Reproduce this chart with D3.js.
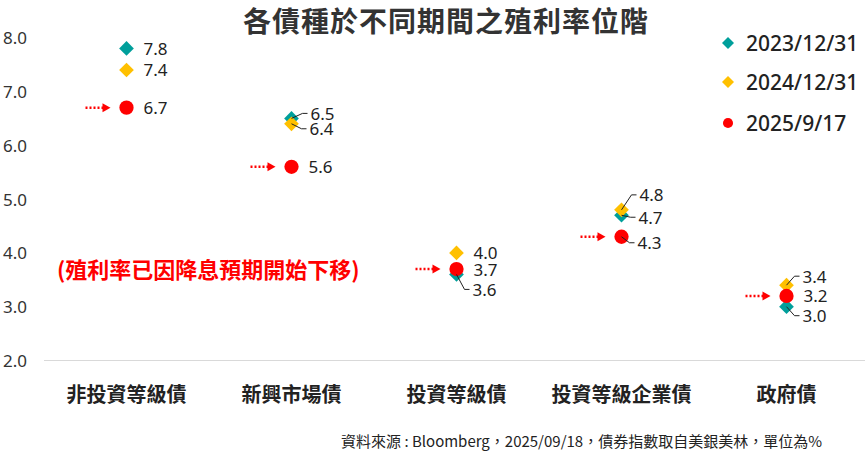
<!DOCTYPE html>
<html>
<head>
<meta charset="utf-8">
<script src="https://cdn.jsdelivr.net/npm/d3@7"></script>
<style>
  body { margin: 0; background: #fff; }
  svg { display: block; font-family: "Noto Sans", "Noto Sans CJK TC", sans-serif; }
  .cjk { font-family: "Noto Sans CJK TC", "Noto Sans", sans-serif; }
</style>
</head>
<body>
<div id="chart" style="width:865px;height:453px"></div>
<script>
// data
const categories = ["非投資等級債", "新興市場債", "投資等級債", "投資等級企業債", "政府債"];
const seriesNames = ["2023/12/31", "2024/12/31", "2025/9/17"];
const yield2023 = [7.8, 6.5, 3.6, 4.7, 3.0];
const yield2024 = [7.4, 6.4, 4.0, 4.8, 3.4];
const yield2025 = [6.7, 5.6, 3.7, 4.3, 3.2];
const yTicks = [2, 3, 4, 5, 6, 7, 8];

// label nudges (px) where labels were moved off the default spot, with leader line
const nudge2023 = [null, [19, -5], [16, 15], [17, 2], [16, 9]];
const nudge2024 = [null, [18, 5], null, [18, -15], [16, -9]];
const nudge2025 = [null, null, null, [16, 6], null];

const colors = ["#009f9b", "#ffc000", "#ff0000"];

startChart("chart");

function startChart(idNode) {
  const canvas = d3.select("#" + idNode);
  const width = 865;
  const height = 453;

  const svg = canvas.append("svg").attr("width", width).attr("height", height);

  const scaleX = d3.scaleBand().domain(categories).range([44, 869]);
  const scaleY = d3.scaleLinear().domain([2, 8]).range([360.5, 37.7]);
  const cx = (c) => scaleX(c) + scaleX.bandwidth() / 2;

  // baseline grid line
  svg
    .append("line")
    .attr("x1", 44)
    .attr("x2", width)
    .attr("y1", scaleY(2))
    .attr("y2", scaleY(2))
    .style("stroke", "#d9d9d9")
    .style("stroke-width", 1);

  // y tick labels
  svg
    .append("g")
    .selectAll("text")
    .data(yTicks)
    .enter()
    .append("text")
    .attr("x", 27)
    .attr("y", (d) => scaleY(d))
    .attr("text-anchor", "end")
    .attr("dominant-baseline", "central")
    .style("font-size", "17px")
    .style("fill", "#333")
    .text((d) => d.toFixed(1));

  // category labels
  svg
    .append("g")
    .selectAll("text")
    .data(categories)
    .enter()
    .append("text")
    .attr("class", "cjk")
    .attr("x", (d) => cx(d))
    .attr("y", 393)
    .attr("text-anchor", "middle")
    .attr("dominant-baseline", "central")
    .style("font-size", "20px")
    .style("font-weight", "bold")
    .style("fill", "#222")
    .text((d) => d);

  // title
  svg
    .append("text")
    .attr("class", "cjk")
    .attr("x", 446)
    .attr("y", 20)
    .attr("text-anchor", "middle")
    .attr("dominant-baseline", "central")
    .style("font-size", "28px")
    .style("font-weight", "bold")
    .style("letter-spacing", "1px")
    .style("fill", "#333")
    .text("各債種於不同期間之殖利率位階");

  const series = [
    { name: seriesNames[0], values: yield2023, nudge: nudge2023, shape: "diamond" },
    { name: seriesNames[1], values: yield2024, nudge: nudge2024, shape: "diamond" },
    { name: seriesNames[2], values: yield2025, nudge: nudge2025, shape: "circle" },
  ];

  const diamond = d3.symbol().type(d3.symbolSquare).size(108);
  const circle = d3.symbol().type(d3.symbolCircle).size(160);

  // red dotted arrows pointing at the latest values
  const arrows = svg.append("g");
  yield2025.forEach((v, i) => {
    const x = cx(categories[i]);
    const y = scaleY(v);
    arrows
      .append("line")
      .attr("x1", x - 41)
      .attr("x2", x - 23)
      .attr("y1", y)
      .attr("y2", y)
      .style("stroke", colors[2])
      .style("stroke-width", 2.5)
      .style("stroke-dasharray", "2,2");
    arrows
      .append("path")
      .attr("d", `M${x - 24},${y - 4.5}L${x - 16},${y}L${x - 24},${y + 4.5}Z`)
      .style("fill", colors[2]);
  });

  // markers
  series.forEach((s, k) => {
    svg
      .append("g")
      .selectAll("path")
      .data(s.values)
      .enter()
      .append("path")
      .attr("d", s.shape === "diamond" ? diamond() : circle())
      .attr("transform", (d, i) =>
        `translate(${cx(categories[i])},${scaleY(d)})` + (s.shape === "diamond" ? " rotate(45)" : "")
      )
      .style("fill", colors[k]);
  });

  // data labels + leader lines
  const labels = svg.append("g");
  series.forEach((s) => {
    s.values.forEach((v, i) => {
      const x = cx(categories[i]);
      const y = scaleY(v);
      const n = s.nudge[i];
      const lx = x + (n ? n[0] : 17);
      const ly = y + (n ? n[1] : 0);
      if (n) {
        labels
          .append("path")
          .attr("d", `M${x},${y}L${lx - 8},${ly}L${lx - 3},${ly}`)
          .style("fill", "none")
          .style("stroke", "#222")
          .style("stroke-width", 1);
      }
      labels
        .append("text")
        .attr("x", lx)
        .attr("y", ly)
        .attr("dominant-baseline", "central")
        .style("font-size", "17px")
        .style("fill", "#222")
        .text(v.toFixed(1));
    });
  });

  // legend
  const legend = svg.append("g");
  series.forEach((s, k) => {
    const ly = [43, 82, 123][k];
    legend
      .append("path")
      .attr("d", s.shape === "diamond"
        ? d3.symbol().type(d3.symbolSquare).size(72)()
        : d3.symbol().type(d3.symbolCircle).size(80)())
      .attr("transform", `translate(728,${ly})` + (s.shape === "diamond" ? " rotate(45)" : ""))
      .style("fill", colors[k]);
    legend
      .append("text")
      .attr("x", 746)
      .attr("y", ly)
      .attr("dominant-baseline", "central")
      .style("font-size", "21px")
      .style("font-weight", "500")
      .style("fill", "#222")
      .text(s.name);
  });

  // annotation
  svg
    .append("text")
    .attr("class", "cjk")
    .attr("x", 57)
    .attr("y", 268)
    .attr("dominant-baseline", "central")
    .style("font-size", "22px")
    .style("font-weight", "bold")
    .style("fill", colors[2])
    .text("(殖利率已因降息預期開始下移)");

  // source note
  svg
    .append("text")
    .attr("class", "cjk")
    .attr("x", 822)
    .attr("y", 440)
    .attr("text-anchor", "end")
    .attr("dominant-baseline", "central")
    .style("font-size", "15px")
    .style("fill", "#222")
    .text("資料來源 : Bloomberg，2025/09/18，債券指數取自美銀美林，單位為%");
}
</script>
</body>
</html>
